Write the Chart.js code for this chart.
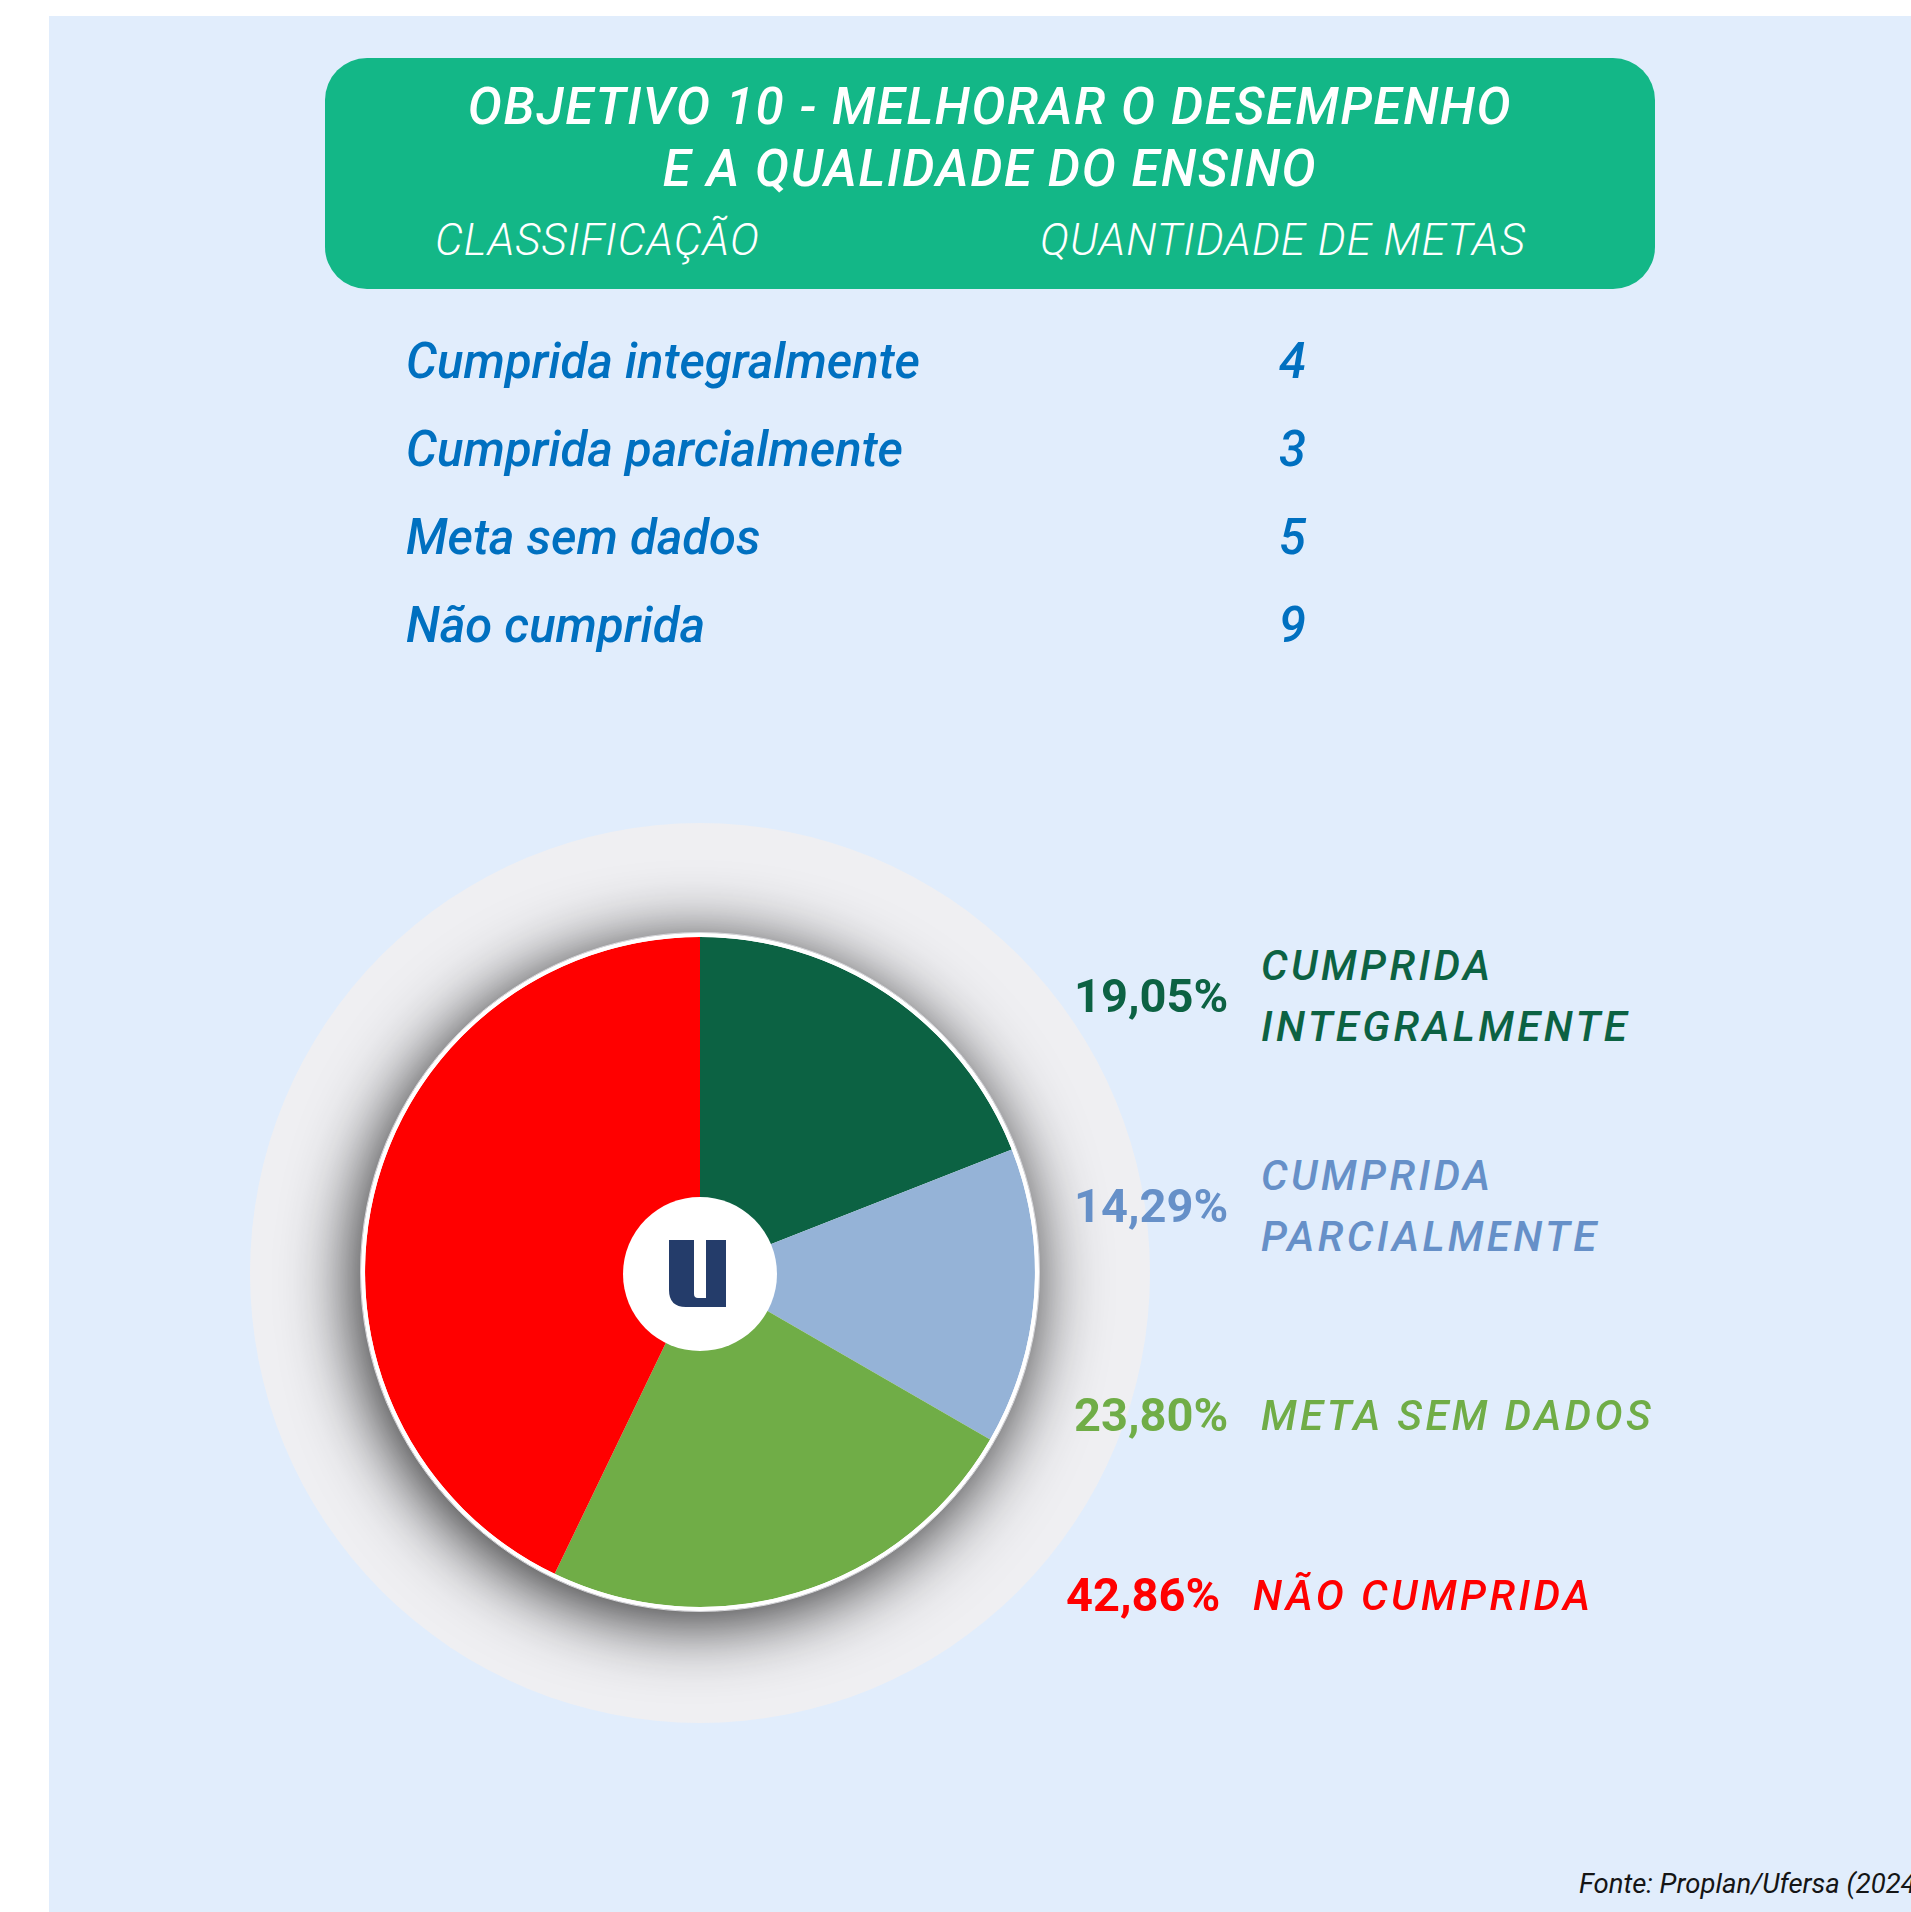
<!DOCTYPE html>
<html>
<head>
<meta charset="utf-8">
<script src="https://cdn.jsdelivr.net/npm/chart.js@4.4.1/dist/chart.umd.min.js"></script>
<style>
body{margin:0;width:1911px;height:1912px;overflow:hidden;background:#fff;font-family:Roboto,"Open Sans",sans-serif;position:relative}
#bg{position:absolute;left:49px;top:16px;right:0;bottom:0;background:#E1EDFC}
#header{position:absolute;left:325px;top:58px;width:1330px;height:231px;border-radius:42px;background:#13B787;color:#fff}
.title{position:absolute;left:0;width:100%;text-align:center;font-style:italic;font-weight:500;font-size:51px;line-height:60px;letter-spacing:1.6px}
.colhead{position:absolute;font-style:italic;font-weight:300;font-size:44px;line-height:50px;letter-spacing:1px;top:157px}
.row{position:absolute;font-style:italic;font-weight:500;font-size:49px;line-height:56px;color:#0070C0;white-space:nowrap}
.pct{position:absolute;font-weight:700;font-size:47px;line-height:56px;white-space:nowrap}
.lab{position:absolute;font-style:italic;font-weight:500;font-size:42px;line-height:61px;letter-spacing:3.4px;white-space:nowrap}
#pieWrap{position:absolute;left:250px;top:823px;width:900px;height:900px}
#fonte{position:absolute;left:1579px;top:1867px;font-style:italic;font-size:27.5px;line-height:34px;color:#151515;white-space:nowrap}
</style>
</head>
<body>
<div id="bg"></div>
<div id="header">
  <div class="title" style="top:19px">OBJETIVO 10 - MELHORAR O DESEMPENHO</div>
  <div class="title" style="top:81px">E A QUALIDADE DO ENSINO</div>
  <div class="colhead" style="left:110px">CLASSIFICAÇÃO</div>
  <div class="colhead" style="left:715px">QUANTIDADE DE METAS</div>
</div>
<div id="table"></div>
<div id="pieWrap"><canvas id="pie" width="900" height="900"></canvas></div>
<div id="legend"></div>
<div id="fonte">Fonte: Proplan/Ufersa (2024)</div>
<script>
// DATA
const categories = ["Cumprida integralmente", "Cumprida parcialmente", "Meta sem dados", "Não cumprida"];
const metas = [4, 3, 5, 9];
const percentLabels = ["19,05%", "14,29%", "23,80%", "42,86%"];
const legendLabels = [["CUMPRIDA", "INTEGRALMENTE"], ["CUMPRIDA", "PARCIALMENTE"], ["META SEM DADOS"], ["NÃO CUMPRIDA"]];

// STYLE
const sliceColors = ["#0C6243", "#95B3D7", "#70AD47", "#FF0000"];
const textColors = ["#0C6243", "#6690C8", "#70AD47", "#FF0000"];
const rowY = [362, 450, 538, 626];
const legendY = [996, 1206, 1415, 1595];
const legendShift = [0, 0, 0, -8];

// TABLE
const table = document.getElementById("table");
categories.forEach((c, i) => {
  const a = document.createElement("div");
  a.className = "row";
  a.style.left = "406px";
  a.style.top = (rowY[i] - 28) + "px";
  a.textContent = c;
  table.appendChild(a);
  const b = document.createElement("div");
  b.className = "row";
  b.style.left = "1279px";
  b.style.top = (rowY[i] - 28) + "px";
  b.textContent = metas[i];
  table.appendChild(b);
});

// LEGEND
const legend = document.getElementById("legend");
percentLabels.forEach((p, i) => {
  const a = document.createElement("div");
  a.className = "pct";
  a.style.left = (1074 + legendShift[i]) + "px";
  a.style.top = (legendY[i] - 28) + "px";
  a.style.color = textColors[i];
  a.textContent = p;
  legend.appendChild(a);
  const lines = legendLabels[i];
  const b = document.createElement("div");
  b.className = "lab";
  b.style.left = (1261 + legendShift[i]) + "px";
  b.style.top = (legendY[i] - lines.length * 61 / 2) + "px";
  b.style.color = textColors[i];
  b.innerHTML = lines.join("<br>");
  legend.appendChild(b);
});

// PIE DECOR
const decor = {
  id: "decor",
  beforeDatasetsDraw(chart) {
    const ctx = chart.ctx;
    const arc = chart.getDatasetMeta(0).data[0];
    ctx.save();
    // grey halo
    ctx.fillStyle = "#EFEFF2";
    ctx.beginPath();
    ctx.arc(450, 450, 450, 0, Math.PI * 2);
    ctx.fill();
    // shadow under pie
    ctx.shadowColor = "rgba(0,0,0,0.85)";
    ctx.shadowBlur = 70;
    ctx.shadowOffsetX = -6;
    ctx.shadowOffsetY = 10;
    ctx.fillStyle = "#ffffff";
    ctx.beginPath();
    ctx.arc(arc.x, arc.y, arc.outerRadius + 4, 0, Math.PI * 2);
    ctx.fill();
    ctx.restore();
  },
  afterDatasetsDraw(chart) {
    const ctx = chart.ctx;
    const arc = chart.getDatasetMeta(0).data[0];
    ctx.save();
    ctx.strokeStyle = "#ffffff";
    ctx.lineWidth = 4;
    ctx.beginPath();
    ctx.arc(arc.x, arc.y, arc.outerRadius + 2, 0, Math.PI * 2);
    ctx.stroke();
    ctx.strokeStyle = "#d8d8dc";
    ctx.lineWidth = 1;
    ctx.beginPath();
    ctx.arc(arc.x, arc.y, arc.outerRadius + 4.5, 0, Math.PI * 2);
    ctx.stroke();
    // centre disc
    const cx = 450, cy = 451;
    ctx.fillStyle = "#ffffff";
    ctx.beginPath();
    ctx.arc(cx, cy, 77, 0, Math.PI * 2);
    ctx.fill();
    // logo
    const x0 = cx - 31, x1 = cx - 6, x2 = cx + 6, x3 = cx + 26;
    const y0 = cy - 34, y1 = cy + 24, y2 = cy + 33, r = 17;
    ctx.fillStyle = "#243C6A";
    ctx.beginPath();
    ctx.moveTo(x0, y0);
    ctx.lineTo(x1, y0);
    ctx.lineTo(x1, y1 - 4);
    ctx.quadraticCurveTo(x1, y1, x1 + 4, y1);
    ctx.lineTo(x2, y1);
    ctx.lineTo(x2, y0);
    ctx.lineTo(x3, y0);
    ctx.lineTo(x3, y2);
    ctx.lineTo(x0 + r, y2);
    ctx.quadraticCurveTo(x0, y2, x0, y2 - r);
    ctx.closePath();
    ctx.fill();
    ctx.restore();
  }
};

new Chart(document.getElementById("pie"), {
  type: "pie",
  data: {
    labels: categories,
    datasets: [{
      data: metas,
      backgroundColor: sliceColors,
      borderWidth: 0
    }]
  },
  options: {
    responsive: false,
    animation: false,
    layout: { padding: { top: 114, bottom: 116, left: 111, right: 111 } },
    plugins: { legend: { display: false }, tooltip: { enabled: false } }
  },
  plugins: [decor]
});
</script>
</body>
</html>
